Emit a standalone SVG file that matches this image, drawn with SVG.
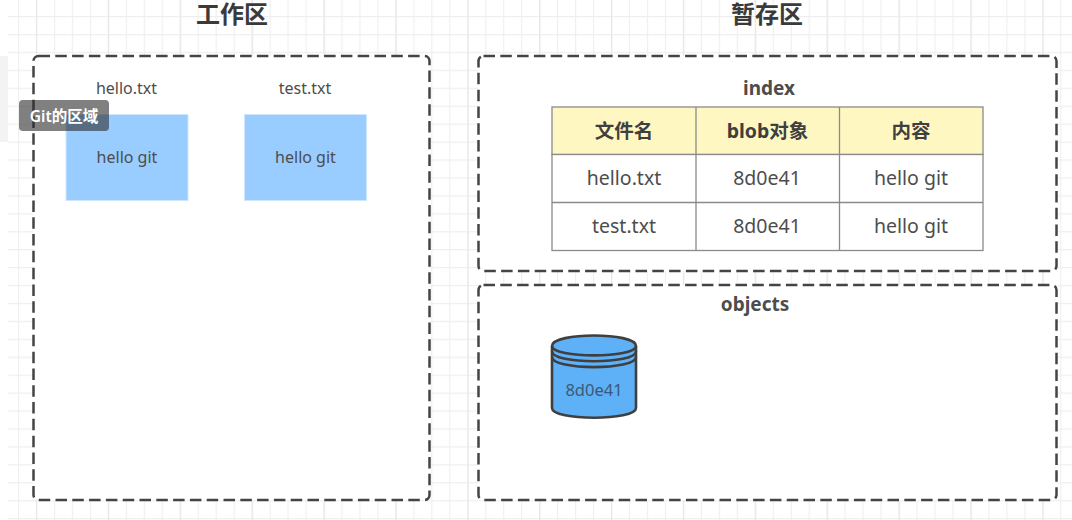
<svg xmlns="http://www.w3.org/2000/svg" width="1072" height="520" viewBox="0 0 1072 520">
<style>
text{font-family:"Liberation Sans","Noto Sans CJK SC",sans-serif;fill:#4d4d4d;text-anchor:middle}
.zh{font-family:"Noto Sans","Noto Sans CJK SC",sans-serif}
.title{font-size:24px;font-weight:700;fill:#3a3a3a}
.box{fill:#fff;stroke:#444;stroke-width:2.5;stroke-dasharray:11.500 5.300}
.file{fill:#99ccff;stroke:#cfe6ff;stroke-width:1}
.lab{font-size:16px}
.cell{font-size:19.500px;font-family:"Noto Sans","Noto Sans CJK SC",sans-serif}
.hd{font-size:19.500px;font-weight:700;fill:#3f3f3f;font-family:"Noto Sans","Noto Sans CJK SC",sans-serif}
</style>
<defs>
<pattern id="g" x="0" y="16" width="17.97" height="17.93" patternUnits="userSpaceOnUse"><path d="M0.5 0V17.93M0 0.5H17.97" fill="none" stroke="#efefef" stroke-width="1.3"/></pattern>
<pattern id="g5" x="36" y="16" width="71.88" height="71.72" patternUnits="userSpaceOnUse"><path d="M0.5 0V71.72" fill="none" stroke="#e8e8e8" stroke-width="1.5"/></pattern>
</defs>
<rect width="1072" height="520" fill="#fff"/>
<g id="grid">
<rect x="8" y="0" width="1064" height="520" fill="url(#g)"/>
<rect x="8" y="0" width="1064" height="520" fill="url(#g5)"/>
</g>
<rect x="0" y="56" width="8" height="86" fill="#f3f3f3"/>
<g id="workspace">
<rect class="box" x="33.500" y="56" width="396" height="444" rx="5"/>
<text class="title" x="232" y="23">工作区</text>
</g>
<g id="stage-title"><text class="title" x="767" y="23">暂存区</text></g>
<g id="index">
<rect class="box" x="478.500" y="56" width="578" height="215" rx="5"/>
<text class="zh" x="769" y="95" font-size="19" font-weight="700">index</text>
</g>
<g id="objects">
<rect class="box" x="478.500" y="285" width="578" height="215" rx="5"/>
<text class="zh" x="755" y="311" font-size="19" font-weight="700">objects</text>
</g>
<g id="file-hello">
<text class="lab zh" x="126.500" y="94">hello.txt</text>
<rect class="file" x="66" y="114.500" width="122" height="86"/>
<text class="lab zh" x="127" y="163">hello git</text>
</g>
<g id="file-test">
<text class="lab zh" x="305" y="94">test.txt</text>
<rect class="file" x="244.500" y="114.500" width="122" height="86"/>
<text class="lab zh" x="305.500" y="163">hello git</text>
</g>
<g id="table" stroke="#8a8a8a" stroke-width="1.3">
<rect x="552" y="107" width="431" height="47.500" fill="#fff7c2"/>
<rect x="552" y="154.500" width="431" height="96" fill="#fff"/>
<path d="M552 202.500H983M696 107V250.500M839.500 107V250.500" fill="none"/>
<g stroke="none">
<text class="hd" x="624" y="138">文件名</text>
<text class="hd" x="767.500" y="138">blob对象</text>
<text class="hd" x="911" y="138">内容</text>
<text class="cell" x="624" y="185">hello.txt</text>
<text class="cell" x="767" y="185">8d0e41</text>
<text class="cell" x="911" y="185">hello git</text>
<text class="cell" x="624" y="233">test.txt</text>
<text class="cell" x="767" y="233">8d0e41</text>
<text class="cell" x="911" y="233">hello git</text>
</g>
</g>
<g id="blob" fill="#5eb0f7" stroke="#3f3f3f" stroke-width="2.6">
<path d="M552 346C552 332 636 332 636 346V408C636 421 552 421 552 408Z"/>
<path d="M552 346C552 358.500 636 358.500 636 346M552 351.500C552 364.500 636 364.500 636 351.500M552 357C552 370.500 636 370.500 636 357" fill="none"/>
<text class="zh" x="594" y="396" font-size="16.500" stroke="none" style="fill:#3b5a78">8d0e41</text>
</g>
<g id="tooltip">
<rect x="19" y="100" width="90" height="31" rx="4" fill="#2b2b2b" fill-opacity=".6"/>
<text class="zh" x="64" y="122" font-size="15.500" font-weight="600" style="fill:#fff">Git的区域</text>
</g>
</svg>
